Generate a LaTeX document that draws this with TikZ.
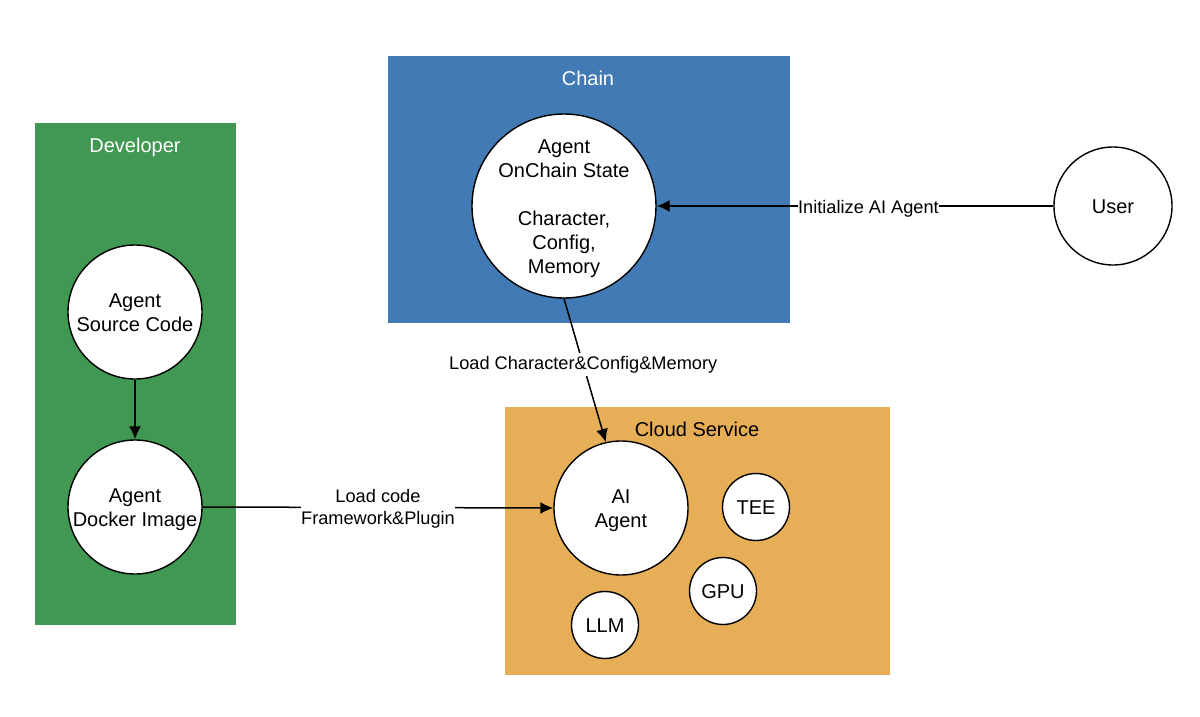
\documentclass[tikz,border=0pt]{standalone}
\usepackage{fontspec}
\setmainfont{Liberation Sans}
\usetikzlibrary{arrows.meta}
\begin{document}
\begin{tikzpicture}[x=1pt,y=-1pt,
  struts/.style={execute at begin node=\strut,execute at end node=\strut},
  circ/.style={circle,draw=black,line width=1.4pt,fill=white,inner sep=0pt},
  lbl/.style={font=\fontsize{20}{24}\selectfont,align=center,inner sep=0pt,struts,yshift=-3pt},
  multi/.style={lbl,yshift=-1pt},
  edgelbl/.style={font=\fontsize{18.2}{22}\selectfont,align=center,fill=white,inner sep=0.5pt,struts},
  conn/.style={draw=black,line width=1.5pt,-{Latex[length=13pt,width=12pt]}}]
\useasboundingbox (0,0) rectangle (1200,717);
\fill[fill=white] (0,0) rectangle (1200,717);
\fill[fill={rgb,255:red,64;green,152;blue,82}] (35,123) rectangle (236,625);
\fill[fill={rgb,255:red,65;green,122;blue,180}] (388,56) rectangle (790,323);
\fill[fill={rgb,255:red,230;green,174;blue,87}] (505,407) rectangle (890,675);
\node[lbl,text=white] (devt) at (135,145) {Developer};
\node[lbl,text=white] (chaint) at (588,78) {Chain};
\node[lbl] (cloudt) at (697,429) {Cloud Service};
\node[circ,minimum size=134pt,label={[multi]center:{Agent\\Source Code}}] (src) at (135,312) {};
\node[circ,minimum size=134pt,label={[multi]center:{Agent\\Docker Image}}] (img) at (135,507) {};
\node[circ,minimum size=184pt,label={[multi]center:{Agent\\OnChain State\\[24pt]Character,\\Config,\\Memory}}] (state) at (564,206) {};
\node[circ,minimum size=118pt,label={[lbl]center:{User}}] (user) at (1113,206) {};
\node[circ,minimum size=134pt,label={[multi]center:{AI\\Agent}}] (ai) at (621,508) {};
\node[circ,minimum size=67pt,label={[lbl]center:{TEE}}] (tee) at (756,507) {};
\node[circ,minimum size=67pt,label={[lbl]center:{GPU}}] (gpu) at (723,591) {};
\node[circ,minimum size=67pt,label={[lbl]center:{LLM}}] (llm) at (605,625) {};
\draw[conn] (src) -- (img);
\draw[conn] (img.east) -- node[edgelbl,pos=0.5,yshift=-3pt] {Load code\\Framework\&Plugin} (ai.west);
\draw[conn] (user.west) -- node[edgelbl,pos=0.466,yshift=-3pt] {Initialize AI Agent} (state.east);
\draw[conn] (state.270) -- node[edgelbl,pos=0.46] {Load Character\&Config\&Memory} (ai.103.4);
\end{tikzpicture}
\end{document}
